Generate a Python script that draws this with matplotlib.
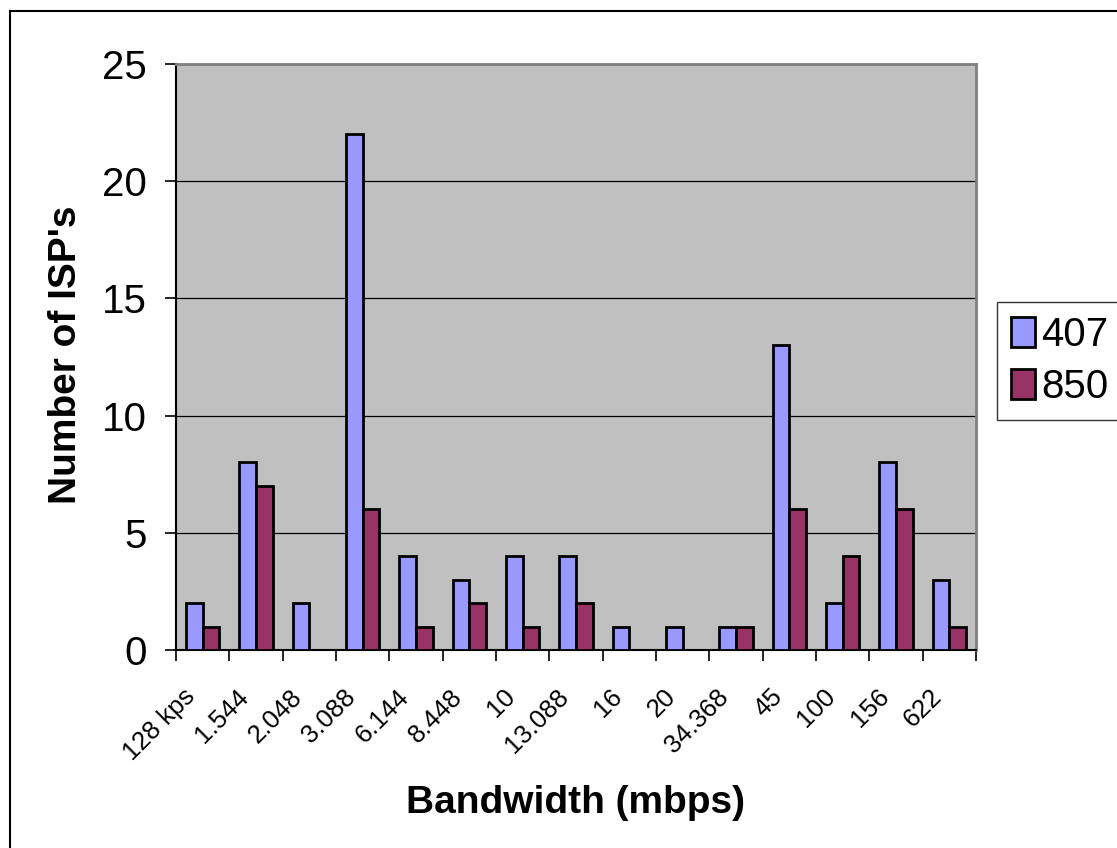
import numpy as np
import matplotlib
matplotlib.use("Agg")
import matplotlib.pyplot as plt
from matplotlib.lines import Line2D
from matplotlib.transforms import ScaledTranslation

plt.rcParams["font.family"] = ["Liberation Sans", "DejaVu Sans"]

bandwidths = ["128 kps", "1.544", "2.048", "3.088", "6.144", "8.448", "10",
              "13.088", "16", "20", "34.368", "45", "100", "156", "622"]
isp_407 = [2, 8, 2, 22, 4, 3, 4, 4, 1, 1, 1, 13, 2, 8, 3]
isp_850 = [1, 7, 0, 6, 1, 2, 1, 2, 0, 0, 1, 6, 4, 6, 1]
series_names = ["407", "850"]

W, H = 1117, 848
fig = plt.figure(figsize=(W / 100, H / 100), dpi=100)
fig.patch.set_facecolor("white")

# chart-area frame (left and top edges visible)
fig.add_artist(Line2D([10 / W, 10 / W], [0, 1 - 11 / H], color="black", lw=1.5,
                      transform=fig.transFigure))
fig.add_artist(Line2D([10 / W, 1], [1 - 11 / H, 1 - 11 / H], color="black", lw=1.5,
                      transform=fig.transFigure))

left, right, top, bottom = 176, 976, 64, 650
ax = fig.add_axes([left / W, 1 - bottom / H, (right - left) / W, (bottom - top) / H])
ax.set_facecolor("#C0C0C0")

x = np.arange(len(bandwidths))
bw = 0.31
b1 = ax.bar(x - bw / 2, isp_407, width=bw, color="#9999FF", edgecolor="black",
            linewidth=2, zorder=3, label=series_names[0])
b2 = ax.bar(x + bw / 2, isp_850, width=bw, color="#993366", edgecolor="black",
            linewidth=2, zorder=3, label=series_names[1])

ax.set_xlim(-0.5, len(bandwidths) - 0.5)
ax.set_ylim(0, 25)
ax.set_yticks(range(0, 26, 5))
ax.yaxis.grid(True, color="black", lw=0.9, zorder=1)
ax.set_axisbelow(True)

for s in ["top", "right"]:
    ax.spines[s].set_color("#808080")
    ax.spines[s].set_linewidth(2)
ax.spines["left"].set_color("black")
ax.spines["left"].set_linewidth(1.5)
ax.spines["bottom"].set_color("black")
ax.spines["bottom"].set_linewidth(1.5)

ax.tick_params(axis="y", direction="out", length=8, width=1.2, labelsize=29, pad=13)
ax.set_xticks(np.arange(-0.5, len(bandwidths), 1.0))
ax.tick_params(axis="x", direction="out", length=8, width=1.2, labelbottom=False)

# rotated category labels
off = ScaledTranslation(-11 / 100, -43 / 100, fig.dpi_scale_trans)
for xi, lab in zip(x, bandwidths):
    ax.text(xi, 0, lab, transform=ax.get_xaxis_transform() + off, rotation=45,
            rotation_mode="anchor", ha="right", va="center", fontsize=18.5)

fig.text(66 / W, 1 - 355 / H, "Number of ISP's", rotation=90, ha="center",
         va="center", fontsize=28, fontweight="bold")
fig.text(576 / W, 1 - 803 / H, "Bandwidth (mbps)", ha="center", va="center",
         fontsize=28, fontweight="bold")

leg = fig.legend(handles=[b1, b2], labels=series_names, loc="upper left",
                 bbox_to_anchor=(997 / W, 1 - 302 / H), fontsize=29, frameon=True,
                 fancybox=False, edgecolor="black", handlelength=0.6,
                 handleheight=0.75, handletextpad=0.15, borderpad=0.35,
                 labelspacing=0.35, borderaxespad=0)
leg.get_frame().set_linewidth(1.0)

fig.savefig("out.png", dpi=100)
